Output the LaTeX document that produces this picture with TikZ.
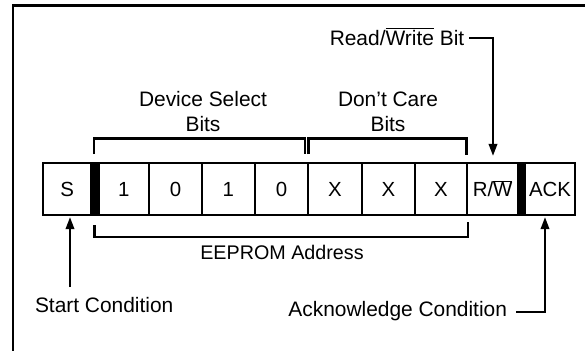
\documentclass[tikz,border=0pt]{standalone}
\usepackage{fontspec}
\setmainfont{Liberation Sans}
\usetikzlibrary{arrows.meta}
\begin{document}
\begin{tikzpicture}[x=1bp,y=-1bp,
  cell/.style={draw, line width=2.1bp, minimum height=51.2bp, inner sep=0pt,
    text height=14.5bp, text depth=0pt, font=\fontsize{20.5}{24}\selectfont},
  bar/.style={fill=black, inner sep=0pt, minimum height=53.2bp, minimum width=6.6bp},
  brk/.style={line width=2.1bp},
  arr/.style={line width=2.1bp, -{Triangle[length=12bp,width=8.5bp]}},
  lbl/.style={inner sep=0pt, anchor=base, font=\fontsize{21}{25.3}\selectfont},
  twolbl/.style={inner sep=0pt, anchor=north, align=center, font=\fontsize{21}{25.3}\selectfont},
]
\useasboundingbox (0,0) rectangle (585,350);
% frame
\draw[line width=2.3bp] (13,352) -- (13,5.5) -- (587,5.5);
% cells
\node[cell, minimum width=48.5bp] (s) at (67.25,189) {S};
\node[bar] (b1) at (95,189) {};
\node[cell, minimum width=50.5bp] (c1) at (123.75,189) {1};
\node[cell, minimum width=53bp] (c2) at (175.5,189) {0};
\node[cell, minimum width=52.7bp] (c3) at (228.35,189) {1};
\node[cell, minimum width=53.6bp] (c4) at (281.5,189) {0};
\node[cell, minimum width=53.4bp] (c5) at (335,189) {X};
\node[cell, minimum width=53.3bp] (c6) at (388.35,189) {X};
\node[cell, minimum width=51.7bp] (c7) at (440.85,189) {X};
\node[cell, minimum width=51.8bp] (rw) at (492.6,189) {R/\ensuremath{\overline{\mbox{W}}}};
\node[bar, minimum width=6.5bp] (b2) at (521.75,189) {};
\node[cell, minimum width=50bp] (ack) at (550,189) {ACK};
% labels
\node[twolbl] (dsb) at (203,90.7) {Device Select\\Bits};
\node[twolbl] (dcb) at (388,91.7) {Don’t Care\\Bits};
\node[lbl] (rwl) at (397,45) {Read/\ensuremath{\overline{\mbox{Write}}} Bit};
\node[lbl, font=\fontsize{19.8}{23}\selectfont] (eep) at (282,259) {EEPROM Address};
\node[lbl] (scl) at (104.2,312.3) {Start Condition};
\node[lbl] (acl) at (397.7,316) {Acknowledge Condition};
% brackets
\draw[brk] (94,154) -- (94,138.5) -- (305,138.5) -- (305,154);
\draw[brk] (308.5,154) -- (308.5,138.5) -- (466.5,138.5) -- (466.5,155);
\draw[brk] (94.5,225) -- (94.5,236.7) -- (468,236.7) -- (468,221.7);
% arrows
\coordinate (sa) at (70,287);
\draw[arr, shorten >=1.5bp] (sa) -- (sa |- s.south);
\coordinate (rwa) at (493,38);
\draw[arr, shorten >=6.5bp] ([xshift=5bp]rwl.east |- rwa) -- (rwa) -- (rwa |- rw.north);
\coordinate (aa) at (545,312);
\draw[arr, shorten >=1.5bp] ([xshift=9bp]acl.east |- aa) -- (aa) -- (aa |- ack.south);
\end{tikzpicture}
\end{document}
